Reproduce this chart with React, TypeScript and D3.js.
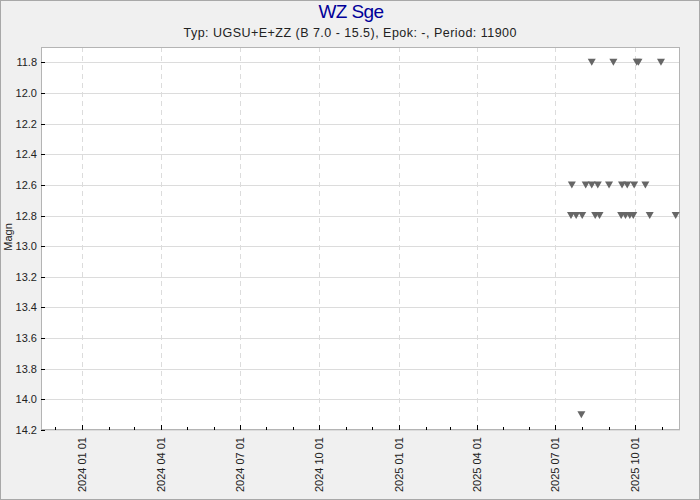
import React from "react";
import * as d3 from "d3";

const obsDates11_8 = ["2025-08-12", "2025-09-06", "2025-10-03", "2025-10-05", "2025-10-31"];
const obsDates12_6 = ["2025-07-20", "2025-08-05", "2025-08-12", "2025-08-19", "2025-09-01", "2025-09-16", "2025-09-22", "2025-09-30", "2025-10-13"];
const obsDates12_8 = ["2025-07-19", "2025-07-25", "2025-08-01", "2025-08-16", "2025-08-21", "2025-09-15", "2025-09-20", "2025-09-25", "2025-09-29", "2025-10-18", "2025-11-17"];
const obsDates14_1 = ["2025-07-31"];

const yTicks = [11.8, 12.0, 12.2, 12.4, 12.6, 12.8, 13.0, 13.2, 13.4, 13.6, 13.8, 14.0, 14.2];
const xMajorTicks = ["2024-01-01", "2024-04-01", "2024-07-01", "2024-10-01", "2025-01-01", "2025-04-01", "2025-07-01", "2025-10-01"];

const title = "WZ Sge";
const subtitle = "Typ: UGSU+E+ZZ (B 7.0 - 15.5), Epok: -, Period: 11900";
const yLabel = "Magn";

const parse = (s: string) => {
  const [y, m, d] = s.split("-").map(Number);
  return new Date(y, m - 1, d);
};

const points = [
  ...obsDates11_8.map((d) => ({ date: parse(d), mag: 11.8 })),
  ...obsDates12_6.map((d) => ({ date: parse(d), mag: 12.6 })),
  ...obsDates12_8.map((d) => ({ date: parse(d), mag: 12.8 })),
  ...obsDates14_1.map((d) => ({ date: parse(d), mag: 14.1 })),
];

export default function App() {
  const W = 700, H = 500;
  const L = 41, R = 680, T = 47, B = 430;
  const x = d3.scaleTime().domain([new Date(2023, 10, 14, 12), new Date(2025, 10, 22)]).range([L, R]);
  const y = d3.scaleLinear().domain([11.7, 14.2]).range([T, B]);
  const minor = d3.timeMonth.range(new Date(2023, 10, 15), new Date(2025, 10, 22));
  const majors = xMajorTicks.map(parse);
  const font = "Arial, 'Liberation Sans', sans-serif";
  const tri = "M-4,-3.5L4,-3.5L0,3.5Z";

  return (
    <svg width={W} height={H} style={{ position: "fixed", left: 0, top: 0 }} fontFamily={font}>
      <rect x={0} y={0} width={W} height={H} fill="#f0f0f0" />
      <rect x={0.5} y={0.5} width={W - 1} height={H - 1} fill="none" stroke="#a8a8a8" />
      <text x={351} y={18} textAnchor="middle" fontSize={19} fill="#000099" letterSpacing={-0.6}>{title}</text>
      <text x={350} y={37} textAnchor="middle" fontSize={12.5} fill="#222" textLength={333} lengthAdjust="spacing">{subtitle}</text>
      <rect x={L} y={T} width={R - L} height={B - T} fill="#fff" />
      {yTicks.map((t) => (
        <line key={"g" + t} x1={L} x2={R} y1={Math.round(y(t)) + 0.5} y2={Math.round(y(t)) + 0.5} stroke="#dcdcdc" />
      ))}
      {majors.map((d, i) => (
        <line key={"v" + i} x1={Math.round(x(d)) + 0.5} x2={Math.round(x(d)) + 0.5} y1={T} y2={B} stroke="#dcdcdc" strokeDasharray="5,4" />
      ))}
      <rect x={L + 0.5} y={T + 0.5} width={R - L - 1} height={B - T - 1} fill="none" stroke="#b4b4b4" />
      {yTicks.map((t) => (
        <g key={"t" + t}>
          <line x1={L} x2={L + 4} y1={Math.round(y(t)) + 0.5} y2={Math.round(y(t)) + 0.5} stroke="#000" />
          <text x={37} y={y(t) + 4} textAnchor="end" fontSize={11} fill="#222">{t.toFixed(1)}</text>
        </g>
      ))}
      {minor.map((d, i) => {
        const isMajor = majors.some((m) => m.getTime() === d.getTime());
        const xp = Math.round(x(d)) + 0.5;
        return <line key={"m" + i} x1={xp} x2={xp} y1={B} y2={B - (isMajor ? 5 : 3)} stroke="#000" />;
      })}
      {majors.map((d, i) => {
        const xp = x(d);
        return (
          <text key={"xl" + i} transform={`translate(${xp + 4},437) rotate(-90)`} textAnchor="end" fontSize={11} fill="#222">
            {d3.timeFormat("%Y %m %d")(d)}
          </text>
        );
      })}
      <text transform="translate(12,237) rotate(-90)" textAnchor="middle" fontSize={11} fill="#222">{yLabel}</text>
      {points.map((p, i) => (
        <path key={"p" + i} d={tri} transform={`translate(${x(p.date)},${y(p.mag)})`} fill="#666" />
      ))}
    </svg>
  );
}
